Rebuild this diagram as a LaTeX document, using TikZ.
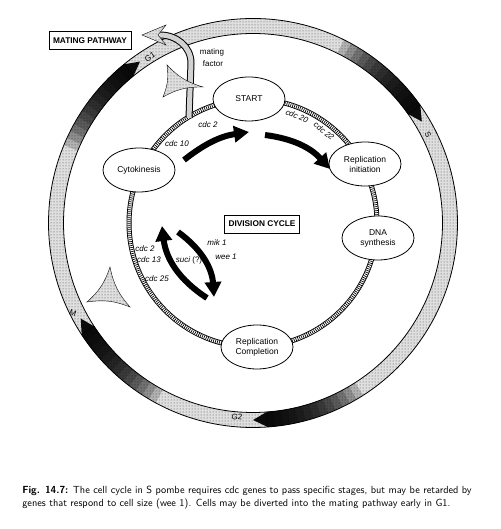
\documentclass[tikz,border=0pt]{standalone}
\usepackage{fontspec}
\newfontfamily\lab{Liberation Sans}
\usetikzlibrary{arrows.meta,positioning,patterns,shapes.geometric}

\begin{document}
\begin{tikzpicture}[
    x = 1pt, y = 1pt, % one unit per pixel
    > = {Triangle[length=15pt,width=16pt]}, % arrow head style
    semithick % line style
    ]

    \tikzset{
    stage/.style = {ellipse, draw = black, thick, fill = white,
        minimum width = 72pt, minimum height = 44pt, inner sep = 0pt,
        align = center, font = \lab\fontsize{8.5}{10}\selectfont},
    gene/.style = {inner sep = 0pt, font = \lab\itshape\fontsize{8}{9}\selectfont},
    phaselab/.style = {inner sep = 0pt, font = \lab\fontsize{8}{9}\selectfont},
    boxed/.style = {draw = black, thick, fill = white, minimum height = 18pt,
        inner xsep = 4pt, font = \lab\bfseries\fontsize{8.3}{10}\selectfont},
    stipple/.style = {fill = gray!25, postaction = {pattern = dots, pattern color = black!70}},
    bigarrow/.style = {->, line width = 6pt}
    }

    \useasboundingbox (0,0) rectangle (500,529);

    % cell cycle ring and division cycle ring
    \begin{scope}[shift={(253,306)}]
    \path[stipple, even odd rule] (0,0) circle[radius=204.5pt] (0,0) circle[radius=189.5pt];
    \foreach \a in {125,31,209,270} {
        \foreach \i in {1,...,13} {
            \fill[black, opacity=0.2] ({\a+4}:189.5) arc[start angle={\a+4}, end angle={\a+4+2.2*\i}, radius=189.5pt]
                -- ({\a+4+2.2*\i}:204.5) arc[start angle={\a+4+2.2*\i}, end angle={\a+4}, radius=204.5pt] -- cycle;
        }
        \fill[black, opacity=0.95] ({\a+4.1}:189.5) -- (\a:197) -- ({\a+4.1}:204.5) -- cycle;
    }
    \draw[thick] (0,0) circle[radius=204.5pt] (0,0) circle[radius=189.5pt];
    \draw[line width=5pt] (0,0) circle[radius=124pt];
    \draw[line width=3.2pt, white] (0,0) circle[radius=124pt];
    \draw[line width=3.2pt, dash pattern=on 0.7pt off 1.3pt] (0,0) circle[radius=124pt];
    \end{scope}

    % mating pathway
    \coordinate (matefrom) at (189,411);
    \coordinate (mateto) at (160,494);
    \draw[line width=7pt] (matefrom) -- (191,466) to[out=90,in=0] (mateto);
    \draw[line width=5pt, gray!35] (matefrom) -- (191,466) to[out=90,in=0] (mateto);
    \path[stipple, draw=black, thin] (142,494) -- (166,504) -- (158,494) -- (166,484) -- cycle;
    \path[stipple, draw=black, thin] (167,464) to[bend left=15] (163,432) to[bend left=15] (203,442) to[bend left=15] cycle;
    \path[stipple, draw=black, thin] (110,262) to[bend left=15] (87,227) to[bend left=15] (130,222) to[bend left=15] cycle;

    \node[boxed] (mating) at (90,488.5) {MATING PATHWAY};
    \node[boxed] (division) at (262,305) {DIVISION CYCLE};
    \node[gene, font=\lab\fontsize{8}{9}\selectfont] (matefac1) at (212,477) {mating};
    \node[gene, font=\lab\fontsize{8}{9}\selectfont] (matefac2) at (213,465) {factor};

    % stages
    \node[stage] (start) at (249,430) {START};
    \node[stage] (repinit) at (365,365) {Replication\\initiation};
    \node[stage] (dna) at (378,291) {DNA\\synthesis};
    \node[stage] (repcomp) at (257,182) {Replication\\Completion};
    \node[stage] (cyto) at (139,359) {Cytokinesis};

    % phases
    \node[phaselab, rotate=32] (g1) at (150,472) {G1};
    \node[phaselab, rotate=-63] (s) at (428,394) {S};
    \node[phaselab, rotate=-20] (m) at (73,216) {M};
    \node[phaselab, rotate=-5] (g2) at (237,112) {G2};

    % control arrows
    \coordinate (a1) at (184,369);
    \coordinate (b1) at (249,397);
    \coordinate (a2) at (265,394);
    \coordinate (b2) at (330,360);
    \coordinate (a3) at (207,231);
    \coordinate (b3) at (162,303);
    \coordinate (a4) at (178,297);
    \coordinate (b4) at (214,232);
    \draw[bigarrow] (a1) to[bend left=15] (b1);
    \draw[bigarrow] (a2) to[bend left=20] (b2);
    \draw[bigarrow] (a3) to[bend left=25] (b3);
    \draw[bigarrow] (a4) to[bend left=25] (b4);

    \node[gene] (cdc10) at (177,385) {cdc 10};
    \node[gene] (cdc2a) at (208,404) {cdc 2};
    \node[gene, rotate=-23] (cdc20) at (297,413) {cdc 20};
    \node[gene, rotate=-39] (cdc22) at (324,398) {cdc 22};
    \node[gene] (mik1) at (217,286) {mik 1};
    \node[gene] (wee1) at (226,272) {wee 1};
    \node[gene] (cdc2b) at (145,280) {cdc 2};
    \node[gene] (cdc13) at (149,269) {cdc 13};
    \node[gene] (suci) at (189,269) {suci \upshape(?)};
    \node[gene] (cdc25) at (157,250) {cdc 25};

    % caption
    \node[anchor=base west, inner sep=0pt, font=\sffamily\fontsize{10.3}{13}\selectfont] (cap1) at (22,35)
        {\textbf{Fig. 14.7:} The cell cycle in S pombe requires cdc genes to pass specific stages, but may be retarded by};
    \node[anchor=base west, inner sep=0pt, font=\sffamily\fontsize{10.3}{13}\selectfont] (cap2) at (22,22)
        {genes that respond to cell size (wee 1). Cells may be diverted into the mating pathway early in G1.};
\end{tikzpicture}
\end{document}
